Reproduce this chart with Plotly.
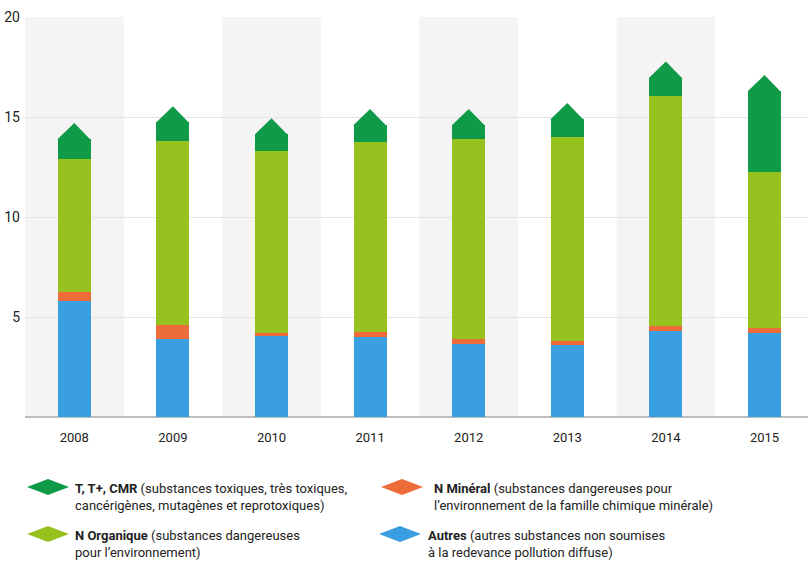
import plotly.graph_objects as go

# Quantities per year (stacked from the bottom up)
years = ["2008", "2009", "2010", "2011", "2012", "2013", "2014", "2015"]
autres = [5.82, 3.88, 4.07, 4.02, 3.65, 3.60, 4.32, 4.18]
n_mineral = [0.45, 0.72, 0.12, 0.22, 0.23, 0.20, 0.25, 0.25]
n_organique = [6.62, 9.20, 9.10, 9.50, 10.02, 10.20, 11.50, 7.84]
cmr = [1.01, 0.94, 0.85, 0.86, 0.70, 0.90, 0.90, 4.03]

y_ticks = [5, 10, 15, 20]

C_AUTRES = "#3a9fe0"
C_MIN = "#ee6b3a"
C_ORG = "#96c11f"
C_CMR = "#0f9a47"
BAND = "#f4f4f4"
FONT = "Roboto, sans-serif"

BAR_W = 0.335
TIP = 0.8      # height of the arrow head on top of each stack
SEAM = 0.05    # small overlap so the head joins the bar without a gap

xs = list(range(len(years)))
fig = go.Figure()

for name, vals, col in [
    ("Autres", autres, C_AUTRES),
    ("N Minéral", n_mineral, C_MIN),
    ("N Organique", n_organique, C_ORG),
    ("T, T+, CMR", cmr, C_CMR),
]:
    fig.add_trace(go.Bar(x=xs, y=vals, name=name, marker=dict(color=col, line=dict(width=0)),
                         width=BAR_W, showlegend=False, hoverinfo="y"))

# arrow heads above each stack
totals = [a + b + c + d for a, b, c, d in zip(autres, n_mineral, n_organique, cmr)]
for i, t in zip(xs, totals):
    fig.add_trace(go.Scatter(
        x=[i - BAR_W / 2, i - BAR_W / 2, i, i + BAR_W / 2, i + BAR_W / 2, i - BAR_W / 2],
        y=[t - SEAM, t, t + TIP, t, t - SEAM, t - SEAM],
        fill="toself", fillcolor=C_CMR, mode="lines", line=dict(width=0, color=C_CMR),
        showlegend=False, hoverinfo="skip"))

shapes = []
# alternating column bands
for i in xs:
    if i % 2 == 0:
        shapes.append(dict(type="rect", xref="x", yref="y", x0=i - 0.5, x1=i + 0.5,
                           y0=0, y1=20, fillcolor=BAND, line=dict(width=0), layer="below"))

W, H = 808, 564
L, R, T, B = 25, 0, 17, 147
PW, PH = W - L - R, H - T - B

def to_paper(x, y):
    return (x - L) / PW, 1 - (y - T) / PH

def diamond_shape(cx, cy, w, h, col):
    x0, yc = to_paper(cx - w / 2, cy)
    xc, y0 = to_paper(cx, cy - h / 2)
    x1, _ = to_paper(cx + w / 2, cy)
    _, y1 = to_paper(cx, cy + h / 2)
    path = f"M {x0},{yc} L {xc},{y0} L {x1},{yc} L {xc},{y1} Z"
    return dict(type="path", xref="paper", yref="paper", path=path,
                fillcolor=col, line=dict(width=0))

legend_items = [
    (48, 487, 73, C_CMR, "<b>T, T+, CMR</b> (substances toxiques, très toxiques,<br>cancérigènes, mutagènes et reprotoxiques)"),
    (48, 534, 73, C_ORG, "<b>N Organique</b> (substances dangereuses<br>pour l’environnement)"),
    (402, 487, 432, C_MIN, "<b>N Minéral</b> (substances dangereuses pour<br>l’environnement de la famille chimique minérale)"),
    (400, 534, 426, C_AUTRES, "<b>Autres</b> (autres substances non soumises<br>à la redevance pollution diffuse)"),
]
annotations = []
for cx, cy, tx, col, txt in legend_items:
    shapes.append(diamond_shape(cx, cy, 42, 16, col))
    ax, ay = to_paper(tx, cy - 8)
    annotations.append(dict(x=ax, y=ay, xref="paper", yref="paper", xanchor="left", yanchor="top",
                            text=txt, showarrow=False, align="left",
                            font=dict(family=FONT, size=13, color="#222")))

fig.update_layout(
    width=W, height=H,
    margin=dict(l=L, r=R, t=T, b=B),
    paper_bgcolor="white", plot_bgcolor="white",
    barmode="stack", bargap=0,
    shapes=shapes, annotations=annotations,
    font=dict(family=FONT, size=13, color="#222"),
    xaxis=dict(range=[-0.5, -0.5 + PW / 98.6], tickvals=xs, ticktext=years,
               showgrid=False, zeroline=False, showline=False,
               ticks="outside", ticklen=8, tickcolor="rgba(0,0,0,0)",
               tickfont=dict(family=FONT, size=13, color="#222")),
    yaxis=dict(range=[0, 20], tickvals=y_ticks, showgrid=True, gridcolor="#e4e4e4", gridwidth=1,
               zeroline=True, zerolinecolor="#bdbdbd", zerolinewidth=2,
               ticks="", ticklabelstandoff=4,
               tickfont=dict(family=FONT, size=14, color="#222")),
)

fig.write_html("out.html")
